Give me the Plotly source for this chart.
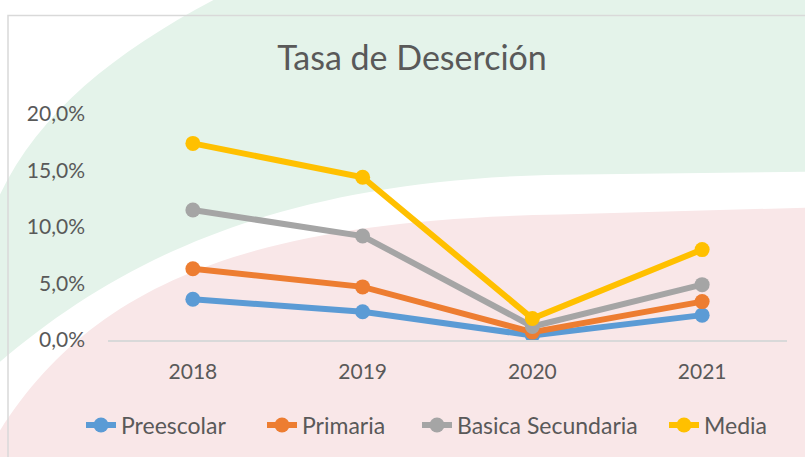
import plotly.graph_objects as go

years = ["2018", "2019", "2020", "2021"]
preescolar = [0.036, 0.025, 0.004, 0.022]
primaria = [0.063, 0.047, 0.007, 0.034]
basica_secundaria = [0.115, 0.092, 0.012, 0.049]
media = [0.174, 0.144, 0.019, 0.080]

series_names = ["Preescolar", "Primaria", "Basica Secundaria", "Media"]
series_values = [preescolar, primaria, basica_secundaria, media]
series_colors = ["#5B9BD5", "#ED7D31", "#A5A5A5", "#FFC000"]
y_ticks = [0, 0.05, 0.10, 0.15, 0.20]

W, H = 805, 457
L, R, T, B = 108, 787, 114, 341
legend_text_starts = [123, 304, 459, 706]

def px(x):
    return (x - L) / (R - L)

def py(y):
    return (B - y) / (B - T)

def path(pts):
    out = []
    for cmd, coords in pts:
        s = cmd
        for (x, y) in coords:
            s += f" {px(x):.4f},{py(y):.4f}"
        out.append(s)
    return " ".join(out) + " Z"

fig = go.Figure()
legend_ids = ["legend", "legend2", "legend3", "legend4"]
for name, vals, col, lg in zip(series_names, series_values, series_colors, legend_ids):
    fig.add_trace(go.Scatter(
        x=years, y=vals, name=name, mode="lines+markers",
        line=dict(color=col, width=6),
        marker=dict(color=col, size=15),
        legend=lg,
    ))

green = path([
    ("M", [(222, -5)]),
    ("C", [(120, 48), (40, 110), (0, 195)]),
    ("L", [(0, 363)]),
    ("C", [(120, 260), (280, 180), (560, 175)]),
    ("L", [(810, 172)]),
    ("L", [(810, -5)]),
])
pink = path([
    ("M", [(0, 432)]),
    ("C", [(90, 290), (240, 220), (560, 215)]),
    ("L", [(810, 208)]),
    ("L", [(810, 470)]),
    ("L", [(0, 470)]),
])

shapes = [
    dict(type="path", xref="paper", yref="paper", path=green,
         fillcolor="rgb(228,243,234)", line=dict(width=0), layer="below"),
    dict(type="path", xref="paper", yref="paper", path=pink,
         fillcolor="rgb(249,231,232)", line=dict(width=0), layer="below"),
    dict(type="rect", xref="paper", yref="paper",
         x0=px(8), y0=py(470), x1=px(820), y1=py(15),
         fillcolor="rgba(0,0,0,0)", line=dict(color="#d9d9d9", width=1.5), layer="below"),
]

legends = {}
for lg, ts in zip(legend_ids, legend_text_starts):
    legends[lg] = dict(orientation="h", x=px(ts - 42), xanchor="left",
                       y=py(425), yanchor="middle", bgcolor="rgba(0,0,0,0)",
                       font=dict(size=23), borderwidth=0)

fig.update_layout(
    width=W, height=H,
    margin=dict(l=L, r=W - R, t=T, b=H - B),
    paper_bgcolor="white",
    plot_bgcolor="rgba(0,0,0,0)",
    separators=",.",
    font=dict(family="Lato, sans-serif", color="#595959", size=21),
    title=dict(text="Tasa de Deserción", x=412 / W, xanchor="center",
               y=1 - 58 / H, yanchor="middle",
               font=dict(size=34, color="#595959")),
    xaxis=dict(showgrid=False, zeroline=False, showline=True,
               linecolor="#d9d9d9", linewidth=2, ticks="",
               range=[-0.5, 3.5], autorange=False,
               ticklabelstandoff=12, fixedrange=True),
    yaxis=dict(range=[0, 0.2], tickvals=y_ticks, tickformat=".1%",
               showgrid=False, zeroline=False, showline=False,
               ticklabelstandoff=22, fixedrange=True),
    shapes=shapes,
    showlegend=True,
    **legends,
)

fig.write_html("out.html")
